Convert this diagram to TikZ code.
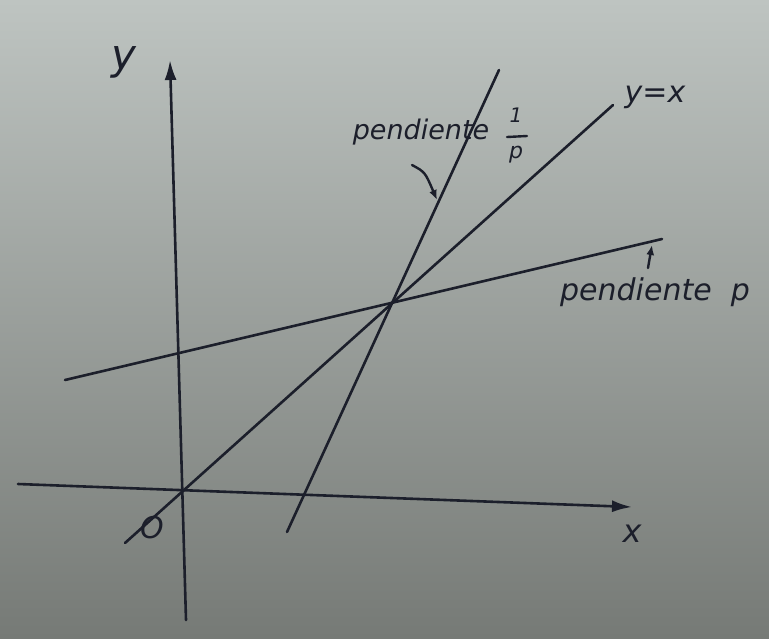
\documentclass[tikz,border=0pt]{standalone}
\usepackage{fontspec}
\setmainfont{DejaVu Sans}
\usetikzlibrary{arrows.meta}
\definecolor{ink}{HTML}{1C1F2B}
\definecolor{paperT}{HTML}{BEC4C1}
\definecolor{paperM}{HTML}{AEB3B0}
\definecolor{paperB}{HTML}{767A76}
\tikzset{
  pen/.style={draw=ink, line width=2.6pt, line cap=round},
  axisarrow/.style={pen, -{Latex[length=20pt,width=12pt]}},
  smallarrow/.style={draw=ink, line width=2.4pt, line cap=round, -{Latex[length=10pt,width=8pt]}},
  hand/.style={text=ink, font=\itshape, inner sep=0pt}
}
\begin{document}
\begin{tikzpicture}[x=1pt,y=-1pt]
\useasboundingbox (0,0) rectangle (769,638);
\shade[top color=paperT, middle color=paperM, bottom color=paperB] (0,0) rectangle (769,638);
% coordinates
\coordinate (ybot) at (186,620);
\coordinate (ytop) at (170,60);
\coordinate (xleft) at (18,484);
\coordinate (xright) at (632,507);
\coordinate (dA) at (125,543);
\coordinate (dB) at (613,105);
\coordinate (sA) at (287,532);
\coordinate (sB) at (499,70);
\coordinate (pA) at (65,380);
\coordinate (pB) at (662,239);
% lines
\draw[axisarrow] (ybot) -- (ytop);
\draw[axisarrow] (xleft) -- (xright);
\draw[pen] (dA) -- (dB);
\draw[pen] (sA) -- (sB);
\draw[pen] (pA) -- (pB);
% labels
\node[hand, font=\itshape\fontsize{42}{42}\selectfont] (ylab) at (124,62) {y};
\node[hand, font=\itshape\fontsize{32}{32}\selectfont] (xlab) at (632,534) {x};
\node[hand, font=\itshape\fontsize{30}{30}\selectfont] (olab) at (152,528) {O};
\node[hand, font=\itshape\fontsize{30}{30}\selectfont] (yx) at (655,97) {y=x};
\node[hand, font=\itshape\fontsize{27}{27}\selectfont] (pend1) at (421,132) {pendiente};
\node[hand, font=\itshape\fontsize{20}{20}\selectfont] (num) at (516,115) {1};
\node[hand, font=\itshape\fontsize{22}{22}\selectfont] (den) at (516,155) {p};
\coordinate (barL) at (507,137);
\coordinate (barR) at (527,136);
\draw[draw=ink, line width=2.4pt, line cap=round] (barL) -- (barR);
\node[hand, font=\itshape\fontsize{30}{30}\selectfont] (pend2) at (655,292) {pendiente\ \ p};
% pointer arrows
\coordinate (a1s) at (412,165);
\coordinate (a1e) at (437,200);
\draw[smallarrow] (a1s) .. controls (425,172) .. (a1e);
\coordinate (a2s) at (648,268);
\coordinate (a2e) at (652,245);
\draw[smallarrow] (a2s) -- (a2e);
\end{tikzpicture}
\end{document}
